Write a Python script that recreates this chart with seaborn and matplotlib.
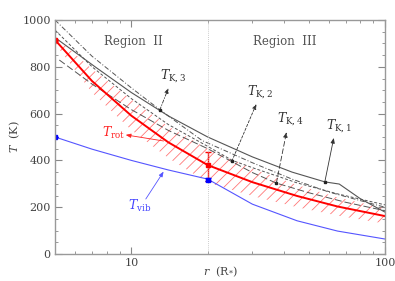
import numpy as np
import pandas as pd
import matplotlib
matplotlib.use("Agg")
import matplotlib.pyplot as plt
import seaborn as sns
from matplotlib.ticker import FixedLocator, NullFormatter, MultipleLocator

sns.set_style("ticks")
plt.rcParams["font.family"] = ["DejaVu Serif"]
plt.rcParams["mathtext.fontset"] = "dejavuserif"
plt.rcParams["hatch.linewidth"] = 0.6

# ---- data ----
r_rot = [5, 7, 10, 14, 20, 30, 45, 65, 100]
t_rot = [915, 739, 591, 477, 380, 307, 248, 203, 162]
t_rot_lo = [900, 690, 530, 410, 305, 248, 200, 164, 130]
t_rot_hi = [930, 790, 660, 545, 450, 365, 295, 242, 195]

r_vib = [5, 7, 10, 14, 20, 30, 45, 65, 100]
t_vib = [500, 448, 400, 359, 320, 213, 142, 98, 64]

r_k1 = [5, 7.3, 10, 14, 20, 30, 43, 58, 66, 80, 100]
t_k1 = [925, 795, 690, 590, 500, 415, 350, 308, 299, 236, 179]

r_k2 = [5, 7, 10, 14, 20, 25, 30, 45, 65, 100]
t_k2 = [957, 800, 664, 553, 460, 400, 369, 304, 257, 210]

r_k3 = [5, 7, 10, 13, 19, 30, 43, 60, 80, 100]
t_k3 = [1000, 845, 710, 615, 485, 390, 320, 265, 228, 200]

r_k4 = [5.2, 7, 10, 14, 20, 30, 37.3, 50, 70, 100]
t_k4 = [829, 726, 617, 528, 450, 348, 303, 262, 221, 185]

# measured points with errors
r_pts = [5, 20]
t_rot_pts = [915, 380]
t_rot_err_lo = [0, 68]
t_rot_err_hi = [0, 56]
t_vib_pts = [500, 318]
t_vib_err = [0, 8]

region_labels = ["Region  II", "Region  III"]

# ---- figure ----
fig = plt.figure(figsize=(3.95, 2.81), dpi=100)
ax = fig.add_axes([55/395, 27/281, 330/395, 234/281])
ax.set_xscale("log")

gray = "#555555"
sns.lineplot(x=r_k3, y=t_k3, ax=ax, color=gray, lw=0.7, linestyle=(0, (5, 2, 1, 2)))
sns.lineplot(x=r_k2, y=t_k2, ax=ax, color=gray, lw=0.7, linestyle=(0, (3, 2)))
sns.lineplot(x=r_k4, y=t_k4, ax=ax, color=gray, lw=0.7, linestyle=(0, (7, 3)))
sns.lineplot(x=r_k1, y=t_k1, ax=ax, color=gray, lw=0.8)

ax.fill_between(r_rot, t_rot_lo, t_rot_hi, facecolor="none", edgecolor="#ff7777",
                hatch="///", linewidth=0)
sns.lineplot(x=r_rot, y=t_rot, ax=ax, color="#ff0000", lw=1.4)
sns.lineplot(x=r_vib, y=t_vib, ax=ax, color="#5555ff", lw=0.8)

ax.errorbar(r_pts, t_rot_pts, yerr=[t_rot_err_lo, t_rot_err_hi], fmt="s", ms=3,
            color="#ff0000", ecolor="#ff0000", elinewidth=1, capsize=2, capthick=1)
ax.errorbar(r_pts, t_vib_pts, yerr=t_vib_err, fmt="s", ms=3,
            color="#0000ff", ecolor="#0000ff", elinewidth=1, capsize=2, capthick=1)

ax.axvline(20, color="#bbbbbb", lw=0.6, ls=(0, (1, 1.5)))

ax.set_xlim(5, 100)
ax.set_ylim(0, 1000)

# annotations
def ann(text, xy, xyt, tpos, color, ls):
    ax.annotate("", xy=xyt, xytext=xy,
                arrowprops=dict(arrowstyle="-|>,head_length=0.3,head_width=0.12",
                                color=color, lw=0.6, ls=ls, shrinkA=0, shrinkB=0))
    ax.text(tpos[0], tpos[1], text, color=color, fontsize=9, ha="center", va="center")

ann(r"$T_{\rm K,3}$", (12.94, 615), (14.0, 709), (14.6, 760), "#333333", (0, (4, 2, 1, 2)))
ann(r"$T_{\rm K,2}$", (24.9, 397), (31.1, 641), (32.3, 695), "#333333", (0, (3, 2)))
ann(r"$T_{\rm K,4}$", (37.3, 303), (40.9, 521), (42.5, 580), "#333333", (0, (6, 3)))
ann(r"$T_{\rm K,1}$", (57.9, 308), (62.8, 496), (66.0, 548), "#333333", "-")
for (x, y) in [(12.94, 615), (24.9, 397), (37.3, 303), (57.9, 308)]:
    ax.plot([x], [y], "s", color="#222222", ms=1.8)

ax.annotate("", xy=(9.5, 509), xytext=(13.4, 483),
            arrowprops=dict(arrowstyle="-|>,head_length=0.3,head_width=0.12",
                            color="#ff2222", lw=0.6, shrinkA=0, shrinkB=0))
ax.text(8.55, 517, r"$T_{\rm rot}$", color="#ff2222", fontsize=9, ha="center", va="center")
ax.annotate("", xy=(13.4, 352), xytext=(11.4, 235),
            arrowprops=dict(arrowstyle="-|>,head_length=0.3,head_width=0.12",
                            color="#5555ff", lw=0.6, shrinkA=0, shrinkB=0))
ax.text(10.8, 205, r"$T_{\rm vib}$", color="#4444ff", fontsize=9, ha="center", va="center")

ax.text(10.2, 906, region_labels[0], color="#555555", fontsize=8.5, ha="center", va="center")
ax.text(40.2, 906, region_labels[1], color="#555555", fontsize=8.5, ha="center", va="center")

# axes styling
ax.xaxis.set_major_locator(FixedLocator([10, 100]))
ax.set_xticklabels(["10", "100"])
ax.xaxis.set_minor_locator(FixedLocator([6, 7, 8, 9, 20, 30, 40, 50, 60, 70, 80, 90]))
ax.xaxis.set_minor_formatter(NullFormatter())
ax.yaxis.set_major_locator(MultipleLocator(200))
ax.yaxis.set_minor_locator(MultipleLocator(50))
ax.tick_params(which="both", direction="in", top=True, right=True, colors="#888888",
               labelcolor="#444444", labelsize=8)
ax.tick_params(which="major", length=5, width=0.8, pad=3)
ax.tick_params(which="minor", length=2.5, width=0.6)
for s in ax.spines.values():
    s.set_color("#999999")
    s.set_linewidth(1.0)

ax.set_xlabel(r"$r$  (R$_{*}$)", fontsize=8, color="#444444")
ax.xaxis.set_label_coords(0.5, -0.047)
ax.set_ylabel(r"$T$  (K)", fontsize=8, color="#444444")
ax.yaxis.set_label_coords(-0.1, 0.5)

fig.savefig("out.png", dpi=100)
